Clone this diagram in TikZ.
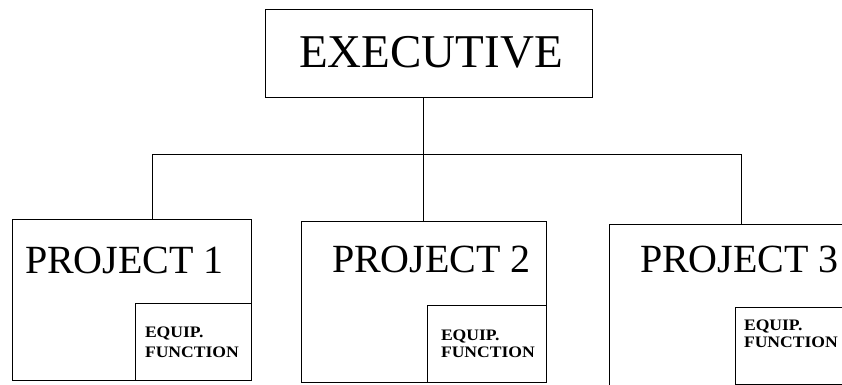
\documentclass[tikz,border=0pt]{standalone}
\usepackage{fontspec}
\setmainfont{Liberation Serif}
\newfontfamily\eqfont[FakeStretch=1.1]{Liberation Serif}
\begin{document}
\begin{tikzpicture}[x=1pt,y=-1pt,inner sep=0pt,outer sep=0pt,
  box/.style={draw,line width=0.9pt,anchor=north west,inner sep=0pt},
  big/.style={font=\fontsize{47}{50}\selectfont,anchor=base},
  proj/.style={font=\fontsize{40}{42}\selectfont,anchor=base west},
  eq/.style={font=\eqfont\bfseries\fontsize{16}{20}\selectfont,anchor=base west,align=left},
  wire/.style={line width=0.9pt}]
\useasboundingbox (0,0) rectangle (842,384);
\clip (0,0) rectangle (842,384);
% boxes
\node[box,minimum width=327pt,minimum height=88pt] (exec) at (265,9) {};
\node[box,minimum width=239pt,minimum height=161pt] (p1) at (12,219) {};
\node[box,minimum width=245pt,minimum height=161pt] (p2) at (301,221) {};
\node[box,minimum width=261pt,minimum height=161pt] (p3) at (609,224) {};
\node[box,minimum width=116pt,minimum height=77pt] (e1) at (135,303) {};
\node[box,minimum width=119pt,minimum height=77pt] (e2) at (427,305) {};
\node[box,minimum width=135pt,minimum height=77pt] (e3) at (735,307) {};
% texts
\node[big] (extxt) at (431,67) {EXECUTIVE};
\node[proj] (p1t) at (25,273) {PROJECT 1};
\node[proj] (p2t) at (332,272) {PROJECT 2};
\node[proj] (p3t) at (640,272) {PROJECT 3};
\node[eq] (e1a) at (145,337) {EQUIP.};
\node[eq] (e1b) at (145,357) {FUNCTION};
\node[eq] (e2a) at (441,340) {EQUIP.};
\node[eq] (e2b) at (441,357) {FUNCTION};
\node[eq] (e3a) at (744,330) {EQUIP.};
\node[eq] (e3b) at (744,347) {FUNCTION};
% connectors
\coordinate (b1) at (152,154);
\coordinate (b2) at (423,154);
\coordinate (b3) at (741,154);
\draw[wire] (b1) -- (b3);
\draw[wire] (exec.south -| b2) -- (b2 |- p2.north);
\draw[wire] (b1) -- (b1 |- p1.north);
\draw[wire] (b3) -- (b3 |- p3.north);
\end{tikzpicture}
\end{document}
